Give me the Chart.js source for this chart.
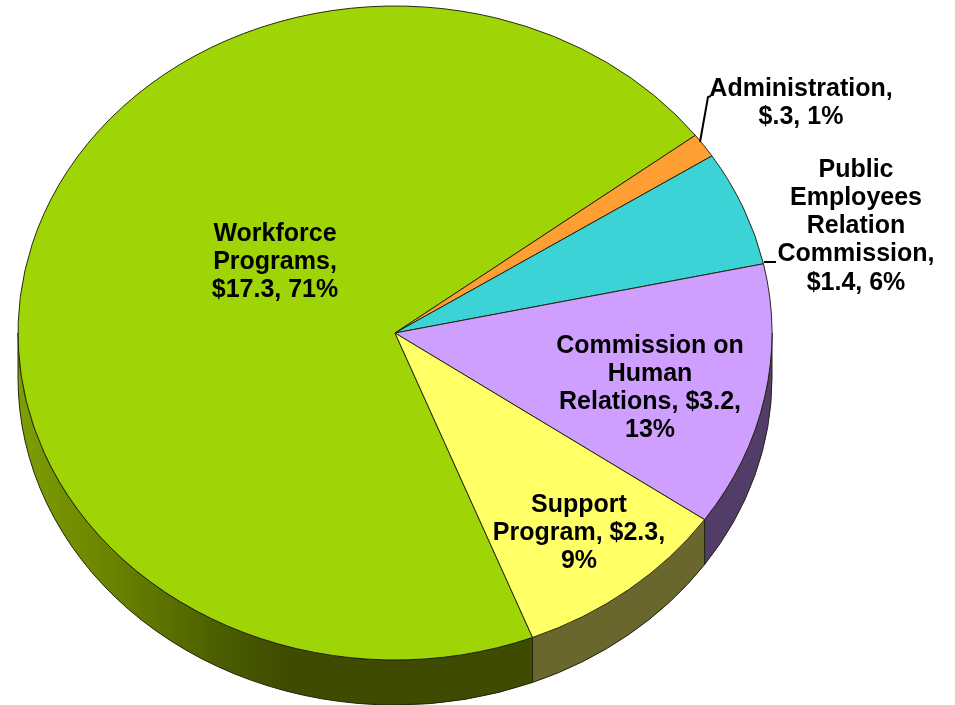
<!DOCTYPE html>
<html>
<head>
<meta charset="utf-8">
<style>html,body{margin:0;padding:0;background:#fff}canvas{display:block}</style>
<script src="https://cdn.jsdelivr.net/npm/chart.js@4"></script>
</head>
<body>
<canvas id="c" width="955" height="705"></canvas>
<script>
const categories = ["Workforce Programs", "Administration", "Public Employees Relation Commission", "Commission on Human Relations", "Support Program"];
const values = [17.3, 0.3, 1.4, 3.2, 2.3];
const topColors = ["#9fd406", "#ff9f33", "#3bd3d6", "#cf9fff", "#ffff66"];
const sideColors = ["#3f4b00", "#7f5020", "#1d6a6b", "#523d68", "#6a672e"];
const labelLines = [
  ["Workforce", "Programs,", "$17.3, 71%"],
  ["Administration,", "$.3, 1%"],
  ["Public", "Employees", "Relation", "Commission,", "$1.4, 6%"],
  ["Commission on", "Human", "Relations, $3.2,", "13%"],
  ["Support", "Program, $2.3,", "9%"]
];
const labelX = [275, 801, 856, 650, 579];
const labelY = [234, 89, 170, 346, 505];
const labelLineHeight = 28.2;
const leaderLines = [
  [[700, 142], [708, 97], [711, 96]],
  [[764, 262], [776, 262]]
];
const startDegrees = 158.6;
const yScale = 327 / 377;
const depth = 45;

const pie3d = {
  id: "pie3d",
  beforeDatasetsDraw(chart) {
    const ctx = chart.ctx;
    const arcs = chart.getDatasetMeta(0).data;
    const cx = arcs[0].x, cy = arcs[0].y, rx = arcs[0].outerRadius, ry = rx * yScale;
    const grad = ctx.createLinearGradient(cx - rx, 0, cx, 0);
    grad.addColorStop(0, "#7f9e04");
    grad.addColorStop(0.25, "#6a8300");
    grad.addColorStop(0.55, "#4a5c00");
    grad.addColorStop(0.72, "#3f4b00");
    grad.addColorStop(1, "#3f4b00");
    arcs.forEach((arc, i) => {
      [0, 1].forEach(k => {
        const lo = k * 2 * Math.PI, hi = lo + Math.PI;
        const a = Math.max(arc.startAngle, lo), b = Math.min(arc.endAngle, hi);
        if (b <= a) return;
        ctx.beginPath();
        ctx.ellipse(cx, cy, rx, ry, 0, a, b);
        ctx.ellipse(cx, cy + depth, rx, ry, 0, b, a, true);
        ctx.closePath();
        ctx.fillStyle = i === 0 ? grad : sideColors[i];
        ctx.fill();
        ctx.lineWidth = 1;
        ctx.strokeStyle = "#22260f";
        ctx.stroke();
      });
    });
    ctx.save();
    ctx.translate(cx, cy);
    ctx.scale(1, yScale);
    ctx.translate(-cx, -cy);
  },
  afterDatasetsDraw(chart) {
    const ctx = chart.ctx;
    ctx.restore();
    ctx.strokeStyle = "#000";
    ctx.lineWidth = 2;
    leaderLines.forEach(pts => {
      ctx.beginPath();
      pts.forEach((p, i) => i ? ctx.lineTo(p[0], p[1]) : ctx.moveTo(p[0], p[1]));
      ctx.stroke();
    });
    ctx.fillStyle = "#000";
    ctx.font = "bold 25px 'Liberation Sans', Arial, sans-serif";
    ctx.textAlign = "center";
    ctx.textBaseline = "middle";
    labelLines.forEach((lines, i) => {
      lines.forEach((t, j) => ctx.fillText(t, labelX[i], labelY[i] + j * labelLineHeight));
    });
  }
};

new Chart(document.getElementById("c"), {
  type: "pie",
  data: {
    labels: categories,
    datasets: [{
      data: values,
      backgroundColor: topColors,
      borderColor: "#1c1f08",
      borderWidth: 1,
      clip: false
    }]
  },
  options: {
    responsive: false,
    animation: false,
    rotation: startDegrees,
    radius: 377,
    layout: { padding: { left: 0, top: 0, right: 165, bottom: 39 } },
    plugins: { legend: { display: false }, tooltip: { enabled: false }, title: { display: false } }
  },
  plugins: [pie3d]
});
</script>
</body>
</html>
